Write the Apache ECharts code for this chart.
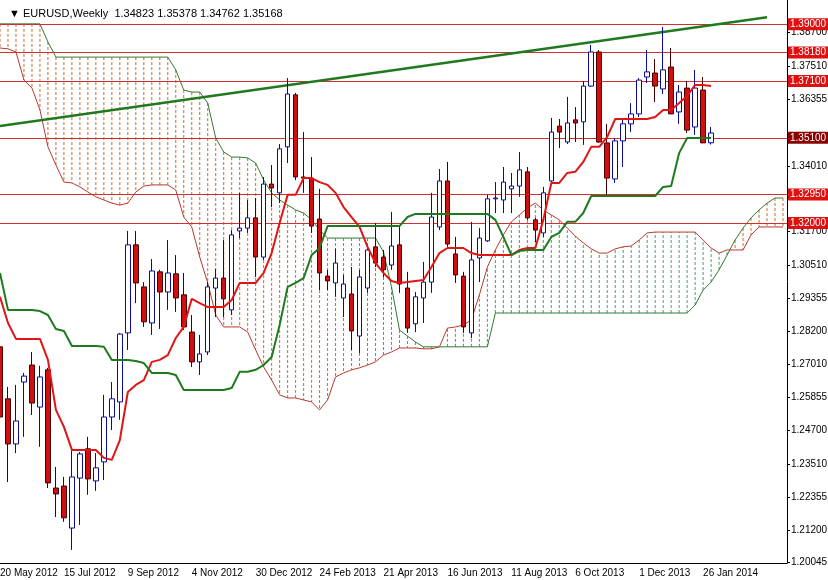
<!DOCTYPE html>
<html><head><meta charset="utf-8">
<script src="https://cdn.jsdelivr.net/npm/echarts@6/dist/echarts.min.js"></script>
<style>html,body{margin:0;padding:0;background:#fff}#c{width:828px;height:580px}</style>
</head><body><div id="c"></div>
<script>
const openP=[1.2764,1.2581,1.2422,1.2640,1.2700,1.2552,1.2683,1.2267,1.2274,1.2126,1.2302,1.2405,1.2292,1.2359,1.2517,1.2570,1.2813,1.3123,1.2975,1.2848,1.3028,1.2957,1.3021,1.2947,1.2816,1.2711,1.2746,1.2971,1.3006,1.2894,1.3172,1.3182,1.3218,1.3080,1.3337,1.3306,1.3468,1.3651,1.3362,1.3358,1.3214,1.3013,1.2989,1.2936,1.2950,1.2802,1.2971,1.3116,1.3080,1.3052,1.3123,1.2971,1.2845,1.2936,1.2992,1.3186,1.3348,1.3091,1.3013,1.2813,1.3077,1.3137,1.3285,1.3281,1.3320,1.3330,1.3380,1.3211,1.3165,1.3348,1.3541,1.3485,1.3563,1.3556,1.3682,1.3802,1.3482,1.3355,1.3489,1.3549,1.3584,1.3714,1.3728,1.3672,1.3749,1.3591,1.3675,1.3538,1.3668,1.34823];
const closeP=[1.2517,1.2422,1.2503,1.2661,1.2566,1.2658,1.2285,1.2246,1.2162,1.2306,1.2387,1.2299,1.2338,1.2517,1.2581,1.2809,1.3123,1.2989,1.2852,1.3031,1.2957,1.3024,1.2936,1.2834,1.2711,1.2739,1.2975,1.3006,1.2933,1.3158,1.3182,1.3218,1.3080,1.3337,1.3323,1.3461,1.3654,1.3362,1.3358,1.3189,1.3024,1.2996,1.3059,1.2985,1.2820,1.3010,1.3105,1.3059,1.3035,1.3119,1.2985,1.2830,1.2940,1.2992,1.3221,1.3348,1.3126,1.3017,1.2834,1.3070,1.3147,1.3285,1.3288,1.3344,1.3330,1.3387,1.3218,1.3175,1.3306,1.3520,1.3520,1.3552,1.3552,1.3682,1.3802,1.3485,1.3358,1.3489,1.3549,1.3584,1.3703,1.3732,1.3682,1.3739,1.3584,1.3661,1.3527,1.3675,1.3482,1.35168];
const highP=[1.2823,1.2623,1.2630,1.2672,1.2746,1.2697,1.2690,1.2341,1.2306,1.2401,1.2394,1.2447,1.2390,1.2595,1.2640,1.2813,1.3172,1.3172,1.2992,1.3073,1.3035,1.3140,1.3087,1.3024,1.2876,1.2806,1.2992,1.3038,1.3140,1.3175,1.3306,1.3281,1.3288,1.3362,1.3404,1.3478,1.3710,1.3658,1.3520,1.3432,1.3320,1.3035,1.3109,1.3017,1.3045,1.3035,1.3112,1.3200,1.3105,1.3239,1.3186,1.3028,1.2957,1.3063,1.3306,1.3390,1.3415,1.3151,1.3028,1.3204,1.3182,1.3299,1.3344,1.3397,1.3376,1.3450,1.3397,1.3218,1.3327,1.3570,1.3566,1.3644,1.3608,1.3700,1.3827,1.3809,1.3549,1.3499,1.3570,1.3622,1.3710,1.3809,1.3777,1.3890,1.3816,1.3686,1.3700,1.3739,1.3714,1.35378];
const lowP=[1.2401,1.2288,1.2390,1.2447,1.2524,1.2412,1.2267,1.2165,1.2148,1.2049,1.2137,1.2243,1.2257,1.2295,1.2471,1.2507,1.2753,1.2918,1.2834,1.2806,1.2827,1.2894,1.2887,1.2823,1.2693,1.2665,1.2735,1.2869,1.2869,1.2876,1.3147,1.3165,1.3010,1.3070,1.3256,1.3270,1.3411,1.3351,1.3306,1.3165,1.2964,1.2964,1.2940,1.2869,1.2753,1.2742,1.2954,1.3045,1.3010,1.3035,1.2954,1.2813,1.2816,1.2848,1.2954,1.3175,1.3116,1.2989,1.2813,1.2795,1.2992,1.3133,1.3235,1.3235,1.3235,1.3292,1.3211,1.3133,1.3151,1.3341,1.3464,1.3478,1.3485,1.3475,1.3679,1.3482,1.3299,1.3341,1.3397,1.3520,1.3573,1.3693,1.3626,1.3654,1.3584,1.3549,1.3517,1.3510,1.3482,1.34762];
const tenkan=[1.2940,1.2848,1.2792,1.2792,1.2792,1.2792,1.2718,1.2542,1.2482,1.2401,1.2401,1.2401,1.2401,1.2373,1.2366,1.2436,1.2605,1.2630,1.2647,1.2711,1.2718,1.2735,1.2795,1.2834,1.2933,1.2918,1.2904,1.2904,1.2904,1.2929,1.2989,1.2989,1.2989,1.3024,1.3094,1.3200,1.3299,1.3299,1.3358,1.3358,1.3344,1.3334,1.3306,1.3256,1.3221,1.3186,1.3116,1.3059,1.3024,1.2996,1.2989,1.2992,1.2996,1.2999,1.3045,1.3094,1.3112,1.3112,1.3112,1.3094,1.3087,1.3087,1.3087,1.3087,1.3087,1.3105,1.3112,1.3112,1.3211,1.3341,1.3341,1.3376,1.3380,1.3415,1.3468,1.3468,1.3503,1.3566,1.3566,1.3566,1.3566,1.3566,1.3573,1.3598,1.3598,1.3622,1.3647,1.3686,1.3686,1.3682];
const kijun=[1.3024,1.2894,1.2894,1.2894,1.2894,1.2890,1.2876,1.2827,1.2820,1.2767,1.2767,1.2767,1.2767,1.2764,1.2718,1.2718,1.2718,1.2714,1.2707,1.2672,1.2672,1.2672,1.2665,1.2612,1.2612,1.2612,1.2612,1.2612,1.2612,1.2619,1.2676,1.2676,1.2683,1.2700,1.2728,1.2841,1.2975,1.2989,1.3006,1.3087,1.3112,1.3189,1.3189,1.3189,1.3189,1.3189,1.3189,1.3189,1.3189,1.3189,1.3189,1.3221,1.3232,1.3232,1.3232,1.3232,1.3232,1.3232,1.3232,1.3232,1.3232,1.3232,1.3211,1.3151,1.3087,1.3101,1.3105,1.3105,1.3105,1.3151,1.3165,1.3204,1.3204,1.3235,1.3295,1.3295,1.3295,1.3295,1.3295,1.3295,1.3295,1.3295,1.3295,1.3327,1.3330,1.3446,1.3499,1.3499,1.3499,1.3499];
const spanGreen=[1.3901,1.3901,1.3901,1.3901,1.3901,1.3901,1.3837,1.3784,1.3784,1.3784,1.3784,1.3784,1.3784,1.3784,1.3784,1.3784,1.3784,1.3784,1.3784,1.3784,1.3784,1.3784,1.3739,1.3668,1.3661,1.3661,1.3622,1.3499,1.3450,1.3432,1.3432,1.3429,1.3411,1.3351,1.3306,1.3281,1.3263,1.3246,1.3235,1.3211,1.3175,1.3147,1.3147,1.3147,1.3147,1.3147,1.3147,1.3147,1.3098,1.2975,1.2823,1.2802,1.2781,1.2764,1.2764,1.2764,1.2764,1.2764,1.2764,1.2764,1.2764,1.2764,1.2883,1.2883,1.2883,1.2883,1.2883,1.2883,1.2883,1.2883,1.2883,1.2883,1.2883,1.2883,1.2883,1.2883,1.2883,1.2883,1.2883,1.2883,1.2883,1.2883,1.2883,1.2883,1.2883,1.2883,1.2883,1.2911,1.2964,1.2992,1.3035,1.3087,1.3140,1.3182,1.3218,1.3246,1.3270,1.3288,1.3288];
const spanRed=[1.3816,1.3813,1.3802,1.3703,1.3675,1.3598,1.3468,1.3404,1.3344,1.3341,1.3327,1.3309,1.3292,1.3281,1.3270,1.3263,1.3270,1.3309,1.3330,1.3334,1.3334,1.3334,1.3316,1.3221,1.3186,1.3080,1.2989,1.2876,1.2834,1.2834,1.2834,1.2816,1.2753,1.2693,1.2647,1.2595,1.2584,1.2584,1.2577,1.2570,1.2542,1.2577,1.2658,1.2672,1.2683,1.2690,1.2700,1.2711,1.2735,1.2746,1.2760,1.2760,1.2760,1.2757,1.2757,1.2764,1.2830,1.2834,1.2841,1.2859,1.2947,1.3045,1.3105,1.3158,1.3204,1.3228,1.3253,1.3270,1.3246,1.3228,1.3211,1.3182,1.3154,1.3130,1.3109,1.3094,1.3094,1.3109,1.3116,1.3119,1.3140,1.3165,1.3168,1.3168,1.3168,1.3168,1.3168,1.3168,1.3140,1.3112,1.3094,1.3105,1.3105,1.3105,1.3158,1.3186,1.3186,1.3186,1.3186];
const levels=[1.3900,1.3818,1.3710,1.3510,1.3295,1.3200];
const yTicks=[1.38700,1.37510,1.36355,1.34010,1.31700,1.30510,1.29355,1.28200,1.27010,1.25855,1.24700,1.23510,1.22355,1.21200,1.20045];
const xTickLabels=['20 May 2012','15 Jul 2012','9 Sep 2012','4 Nov 2012','30 Dec 2012','24 Feb 2013','21 Apr 2013','16 Jun 2013','11 Aug 2013','6 Oct 2013','1 Dec 2013','26 Jan 2014'];
const trend=[[0,1.3541],[96,1.3924]];
const nSlots=99;

const cats=[];for(let i=0;i<nSlots;i++){cats.push(i%8===0?(xTickLabels[i/8]||''):'w'+i);}
const pad=a=>a.concat(Array(nSlots-a.length).fill('-'));
const candles=openP.map((o,i)=>[o,closeP[i],lowP[i],highP[i]]);
const hatch=spanGreen.map((g,i)=>[i,g,spanRed[i]]);
const chart=echarts.init(document.getElementById('c'));
const fam='"Liberation Sans", Arial, sans-serif';
chart.setOption({
 animation:false,
 backgroundColor:'#fff',
 title:{text:'\u25BC EURUSD,Weekly  1.34823 1.35378 1.34762 1.35168',left:4,top:3,textStyle:{fontSize:11,fontWeight:'normal',color:'#000',fontFamily:fam}},
 grid:{left:-4,right:41,top:0,bottom:17,containLabel:false,outerBoundsMode:'none'},
 xAxis:{type:'category',data:cats,boundaryGap:true,
  axisLine:{lineStyle:{color:'#000'}},axisTick:{show:false},
  axisLabel:{interval:0,color:'#000',fontSize:10,fontFamily:fam,align:'left',margin:5,hideOverlap:false,formatter:v=>v.charAt(0)==='w'?'':v},
  splitLine:{show:false}},
 yAxis:{type:'value',position:'right',min:1.2003,max:1.3985,
  axisLine:{show:true,lineStyle:{color:'#000'}},
  axisTick:{show:true,length:3,inside:false,customValues:yTicks,lineStyle:{color:'#000'}},
  axisLabel:{customValues:yTicks,color:'#000',fontSize:10,fontFamily:fam,margin:4,formatter:v=>v.toFixed(5)},
  splitLine:{show:false}},
 series:[
  {type:'custom',data:hatch,z:1,silent:true,
   renderItem:(p,api)=>{const i=api.value(0),g=api.value(1),r=api.value(2);
     const a=api.coord([i,g]),b=api.coord([i,r]);
     return {type:'line',shape:{x1:a[0],y1:a[1],x2:b[0],y2:b[1]},
      style:{stroke:g>r?'#d0682a':'#4f9a68',lineWidth:1,lineDash:[3,2]}};}},
  {type:'line',data:spanGreen,symbol:'none',z:2,lineStyle:{color:'#2f7a2f',width:1}},
  {type:'line',data:spanRed,symbol:'none',z:2,lineStyle:{color:'#b83a2a',width:1}},
  {type:'candlestick',data:candles,barWidth:5,z:5,
   itemStyle:{color:'#ffffff',color0:'#d01010',borderColor:'#0b0b9a',borderColor0:'#4a0000',borderWidth:1},
   markLine:{silent:true,symbol:'none',
    data:levels.map(v=>({yAxis:v,lineStyle:{color:'#d03030',width:1,type:'solid'},
      label:{show:true,position:'end',distance:1,formatter:v.toFixed(5),color:'#fff',backgroundColor:v===1.3510?'#8b0000':'#e01010',padding:[1,2,1,2],fontSize:10,fontFamily:fam}}))
     .concat([[{coord:trend[0],lineStyle:{color:'#1f7a1f',width:2.5,type:'solid'},label:{show:false}},{coord:trend[1]}]])}},
  {type:'line',data:pad(tenkan),symbol:'none',z:6,lineStyle:{color:'#e01515',width:2}},
  {type:'line',data:pad(kijun),symbol:'none',z:6,lineStyle:{color:'#1f7a1f',width:2}}
 ]
});
</script></body></html>
